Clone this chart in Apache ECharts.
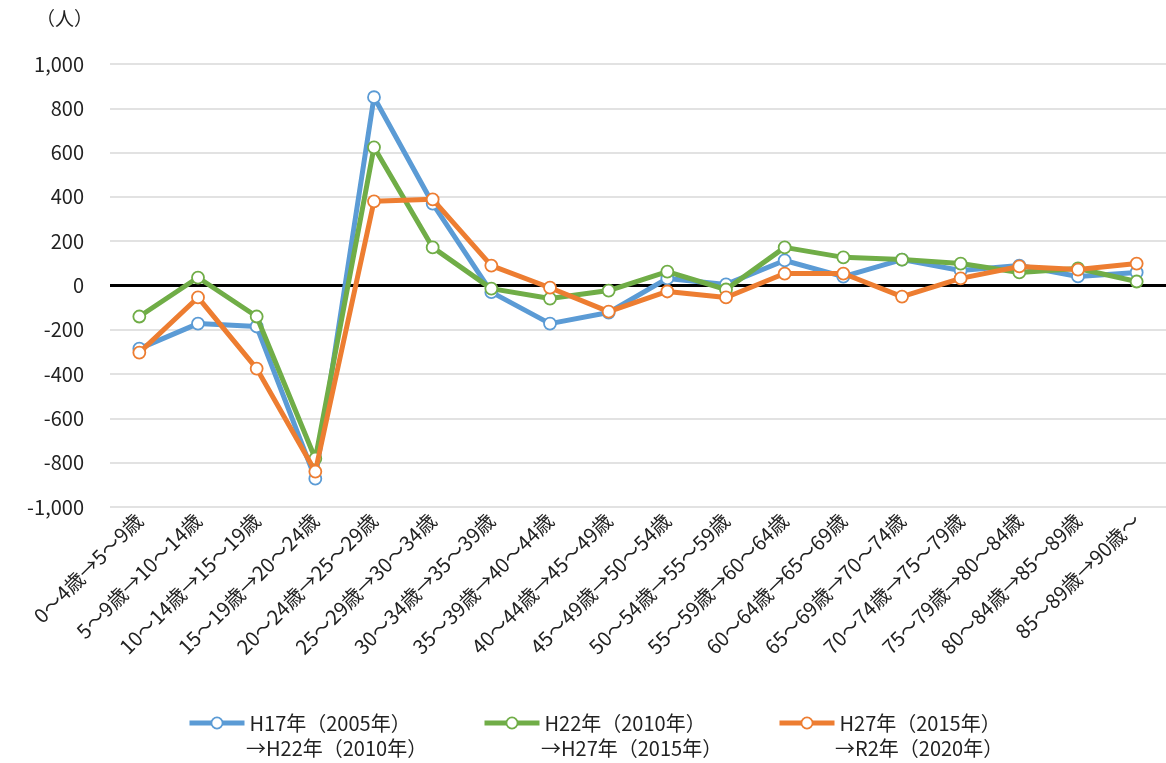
<!DOCTYPE html>
<html><head><meta charset="utf-8">
<script src="https://cdn.jsdelivr.net/npm/echarts@6/dist/echarts.min.js"></script>
<style>html,body{margin:0;padding:0;background:#fff}#c{width:1166px;height:763px}</style>
</head><body><div id="c"></div>
<script>
const categories = ['0～4歳→5～9歳','5～9歳→10～14歳','10～14歳→15～19歳','15～19歳→20～24歳','20～24歳→25～29歳','25～29歳→30～34歳','30～34歳→35～39歳','35～39歳→40～44歳','40～44歳→45～49歳','45～49歳→50～54歳','50～54歳→55～59歳','55～59歳→60～64歳','60～64歳→65～69歳','65～69歳→70～74歳','70～74歳→75～79歳','75～79歳→80～84歳','80～84歳→85～89歳','85～89歳→90歳～'];
const seriesNames = ['H17年（2005年）','H22年（2010年）','H27年（2015年）'];
const seriesNames2 = ['→H22年（2010年）','→H27年（2015年）','→R2年（2020年）'];
const blue   = [-285,-172,-185,-872,850,370,-30,-172,-122,32,5,113,40,117,68,90,41,59];
const green  = [-140,36,-140,-782,624,172,-14,-59,-23,63,-18,172,127,117,99,59,77,18];
const orange = [-303,-54,-375,-840,380,389,90,-10,-118,-27,-54,54,54,-50,32,86,72,99];
const yTicks = {min:-1000,max:1000,interval:200};
const colors = ['#5B9BD5','#70AD47','#ED7D31'];
const FONT = '"Noto Sans CJK JP", "Noto Sans", sans-serif';

const chart = echarts.init(document.getElementById('c'));
function mk(i, data){
  return {
    name: seriesNames[i], type:'line', data: data, z: 3+i,
    symbol:'circle', symbolSize: 12,
    itemStyle:{color:'#fff', borderColor: colors[i], borderWidth:1.8},
    lineStyle:{color: colors[i], width:5},
    color: colors[i]
  };
}
const s0 = mk(0, blue);
s0.markLine = {silent:true, symbol:'none', label:{show:false}, z:2,
  lineStyle:{color:'#000', width:3, type:'solid'}, data:[{yAxis:0}]};
const legendLeft = [182, 477, 772];
const line2Left = [246, 541, 835];
chart.setOption({
  animation:false,
  textStyle:{fontFamily:FONT},
  grid:{left:110, top:64, width:1058, height:443},
  xAxis:{type:'category', data:categories, boundaryGap:true,
    axisLine:{show:false}, axisTick:{show:false},
    axisLabel:{rotate:45, interval:0, fontSize:20, color:'#222', margin:10, fontFamily:FONT}},
  yAxis:{type:'value', min:yTicks.min, max:yTicks.max, interval:yTicks.interval,
    axisLine:{show:false}, axisTick:{show:false},
    splitLine:{lineStyle:{color:'#d9d9d9', width:1.5}},
    axisLabel:{fontSize:20, color:'#222', margin:26, fontFamily:FONT,
      formatter: v => (v<0?'-':'') + Math.abs(v).toLocaleString('en-US')}},
  legend: seriesNames.map((n,i)=>({left:legendLeft[i], top:708, itemWidth:55, itemHeight:14, itemGap:5,
    lineStyle:{width:5, color:colors[i]},
    itemStyle:{color:'#fff', borderColor:colors[i], borderWidth:1.8},
    data:[n], textStyle:{fontSize:20, color:'#222', fontFamily:FONT}})),
  graphic: [
    {type:'text', left:36, top:9, style:{text:'（人）', font:'19px '+FONT, fill:'#222'}},
    ...seriesNames2.map((t,i)=>({type:'text', left:line2Left[i], top:738,
      style:{text:t, font:'20px '+FONT, fill:'#222'}}))
  ],
  series:[s0, mk(1, green), mk(2, orange)]
});
</script></body></html>
